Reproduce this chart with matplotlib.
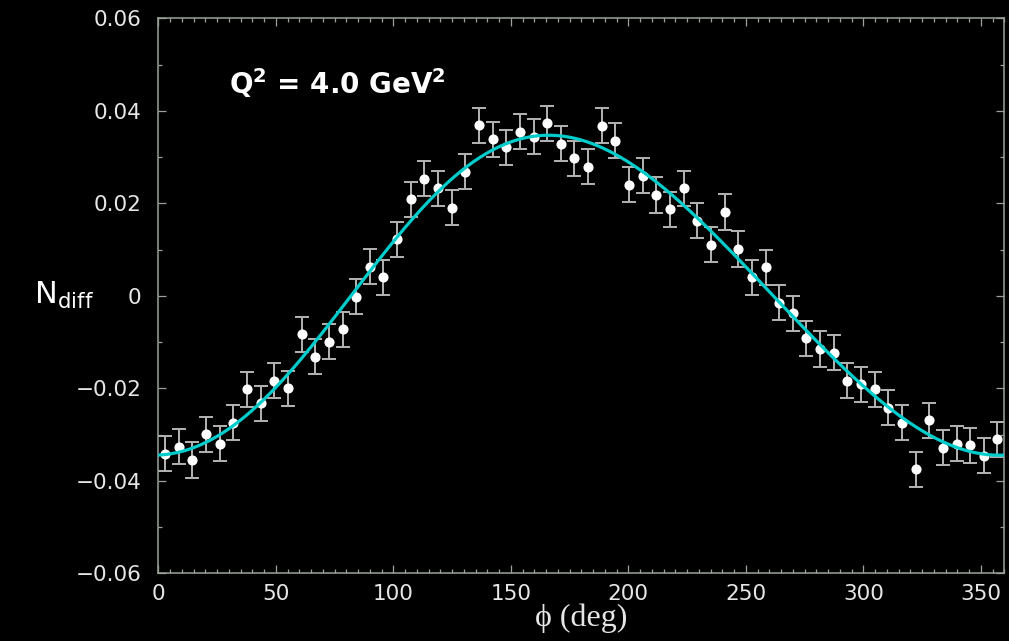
import numpy as np
import matplotlib.pyplot as plt
from matplotlib.ticker import MultipleLocator

plt.rcParams['mathtext.fontset'] = 'dejavusans'
plt.rcParams['mathtext.default'] = 'regular'

# Азимутальный угол (центры бинов), град
phi = [2.9, 8.7, 14.5, 20.3, 26.1, 31.9, 37.7, 43.5, 49.4, 55.2,
       61.0, 66.8, 72.6, 78.4, 84.2, 90.0, 95.8, 101.6, 107.4, 113.2,
       119.0, 124.8, 130.6, 136.5, 142.3, 148.1, 153.9, 159.7, 165.5, 171.3,
       177.1, 182.9, 188.7, 194.5, 200.3, 206.1, 211.9, 217.7, 223.5, 229.4,
       235.2, 241.0, 246.8, 252.6, 258.4, 264.2, 270.0, 275.8, 281.6, 287.4,
       293.2, 299.0, 304.8, 310.6, 316.5, 322.3, 328.1, 333.9, 339.7, 345.5,
       351.3, 357.1]

# Разностная величина N_diff
n_diff = [-0.0341, -0.0326, -0.0355, -0.0299, -0.0320, -0.0274, -0.0202, -0.0232,
          -0.0184, -0.0200, -0.0083, -0.0132, -0.0099, -0.0072, -0.0002, 0.0063,
          0.0040, 0.0122, 0.0209, 0.0253, 0.0232, 0.0190, 0.0268, 0.0369,
          0.0338, 0.0321, 0.0355, 0.0344, 0.0373, 0.0329, 0.0297, 0.0279,
          0.0368, 0.0335, 0.0240, 0.0260, 0.0218, 0.0187, 0.0232, 0.0162,
          0.0110, 0.0181, 0.0101, 0.0040, 0.0062, -0.0015, -0.0038, -0.0092,
          -0.0115, -0.0123, -0.0184, -0.0191, -0.0202, -0.0242, -0.0274, -0.0375,
          -0.0269, -0.0328, -0.0320, -0.0323, -0.0346, -0.0310]

# Статистическая ошибка точки
ERR = 0.0038

y_ticks = [-0.06, -0.04, -0.02, 0, 0.02, 0.04, 0.06]
y_tick_labels = ['\u22120.06', '\u22120.04', '\u22120.02', '0', '0.02', '0.04', '0.06']

AXIS_COLOR = '#9aa29a'
TEXT_COLOR = '#e6e6e6'

x = np.array(phi)
y = np.array(n_diff)

# МНК-аппроксимация рядом Фурье: 1, cos, sin, cos2, sin2
def basis(t):
    r = np.radians(t)
    return np.column_stack([np.ones_like(r), np.cos(r), np.sin(r),
                            np.cos(2 * r), np.sin(2 * r)])

coef, *_ = np.linalg.lstsq(basis(x), y, rcond=None)
xx = np.linspace(0, 360, 721)
yy = basis(xx) @ coef

fig = plt.figure(figsize=(10.09, 6.41), dpi=100, facecolor='black')
ax = fig.add_axes([0.1569, 0.1056, 0.8384, 0.8659], facecolor='black')

ax.errorbar(x, y, yerr=ERR, fmt='none', ecolor='#b4b4b4', elinewidth=1.4,
            capsize=5, capthick=1.4, zorder=2)
ax.plot(x, y, 'o', color='white', markersize=7.3, markeredgewidth=0, zorder=3)
ax.plot(xx, yy, color='#00cccc', lw=2.3, zorder=4)

ax.set_xlim(0, 360)
ax.set_ylim(-0.06, 0.06)
ax.xaxis.set_major_locator(MultipleLocator(50))
ax.xaxis.set_minor_locator(MultipleLocator(5))
ax.yaxis.set_minor_locator(MultipleLocator(0.01))
ax.set_yticks(y_ticks)
ax.set_yticklabels(y_tick_labels)

for s in ax.spines.values():
    s.set_color(AXIS_COLOR)
    s.set_linewidth(1.1)

ax.tick_params(which='both', direction='in', top=True, right=True,
               color=AXIS_COLOR, width=0.9)
ax.tick_params(which='major', length=5.5, labelsize=15.5, labelcolor=TEXT_COLOR)
ax.tick_params(which='minor', length=3)
ax.tick_params(axis='x', pad=8)
ax.tick_params(axis='y', pad=12)

ax.set_xlabel('\u03d5 (deg)', family=['Liberation Serif', 'DejaVu Serif'],
              fontsize=23, color=TEXT_COLOR, labelpad=-1)
ax.text(-0.112, 0.5, r'N$_{diff}$', transform=ax.transAxes, fontsize=22,
        color='white', ha='center', va='center')

ax.text(30, 0.0436, r'Q$^{\mathbf{2}}$ = 4.0 GeV$^{\mathbf{2}}$', fontsize=20,
        fontweight='bold', color='white', ha='left', va='baseline')

fig.savefig('out.png', dpi=100, facecolor='black')
